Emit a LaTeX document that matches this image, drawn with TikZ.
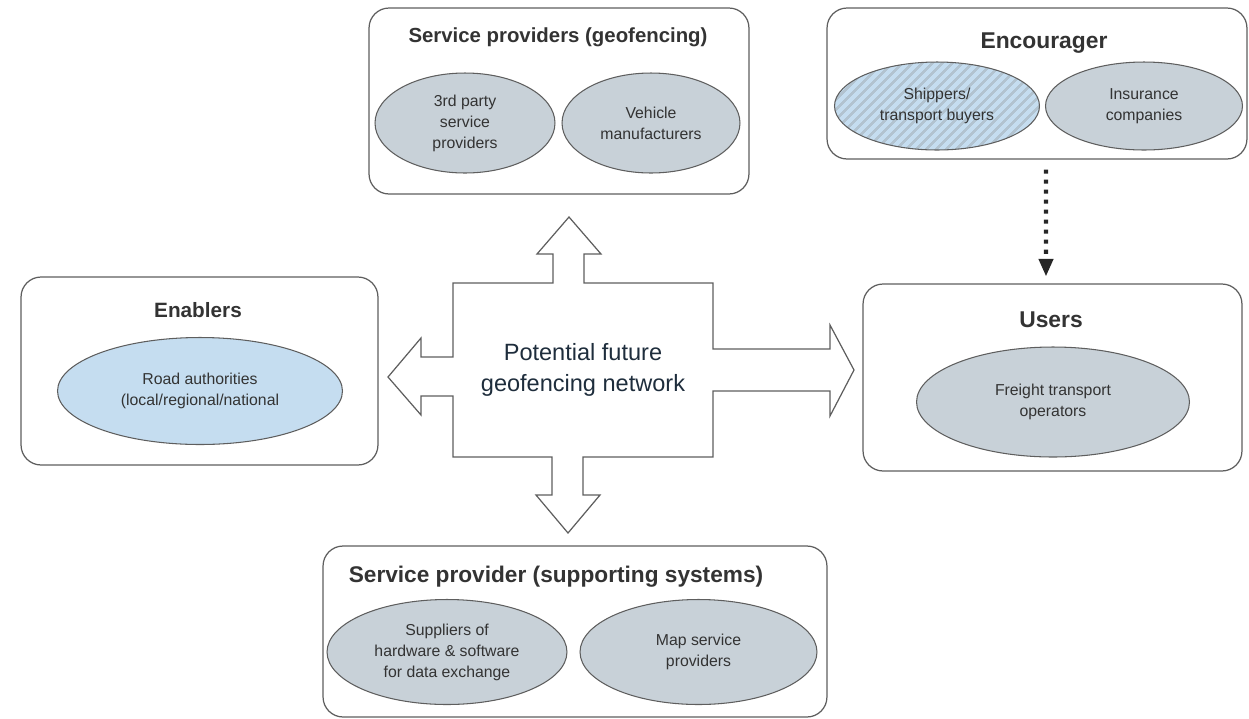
\documentclass[tikz,border=0pt]{standalone}
\usepackage{fontspec}
\setmainfont{Liberation Sans}
\usepackage{xcolor}
\usetikzlibrary{shapes.geometric}
\usetikzlibrary{arrows.meta}
\usetikzlibrary{patterns.meta}
\definecolor{boxline}{HTML}{5E5E5E}
\definecolor{ellgray}{HTML}{C8D1D8}
\definecolor{roadblue}{HTML}{C5DDF0}
\definecolor{stripe}{HTML}{B2C3D0}
\definecolor{txtgray}{HTML}{333333}
\definecolor{netblue}{HTML}{1E2D3C}

\begin{document}
\begin{tikzpicture}[x=0.02cm, y=-0.02cm,
                    %1 unit = 1 pixel of the original
                    grouprect/.style={rectangle, draw = boxline, line width = 0.7pt,
                    rounded corners = 0.4cm},
                    grouptitle/.style={anchor = base, font = \bfseries, text = txtgray},
                    actell/.style={ellipse, align = center, draw = boxline, line width = 0.6pt,
                    fill = ellgray, text = txtgray, inner sep = 0pt,
                    font = \fontsize{9}{12}\selectfont},
                    blueell/.style={actell, fill = roadblue},
                    dotarr/.style={-{Triangle[width=8pt,length=10pt]}, line width = 2.3pt,
                    dash pattern = on 2.3pt off 3.4pt, draw = black!85},
                    crossline/.style={draw = boxline, line width = 0.7pt}]

                    \useasboundingbox (0,0) rectangle (1249,718);

                    % groups
                    \node[grouprect, minimum width = 7.6cm, minimum height = 3.72cm] (geo) at (559,101) {};
                    \node[grouptitle, font = \bfseries\fontsize{11.6}{14}\selectfont] (geotitle) at (558,42) {Service providers (geofencing)};
                    \node[actell, minimum width = 3.6cm, minimum height = 2cm] (thirdp) at (465,123) {3rd party\\service\\providers};
                    \node[actell, minimum width = 3.56cm, minimum height = 2cm] (vehicle) at (651,123) {Vehicle\\manufacturers};

                    \node[grouprect, minimum width = 8.4cm, minimum height = 3.02cm] (enc) at (1037,83.5) {};
                    \node[grouptitle, font = \bfseries\fontsize{13}{15}\selectfont] (enctitle) at (1044,48) {Encourager};
                    \node[blueell, minimum width = 4.1cm, minimum height = 1.76cm,
                          pattern = {Lines[angle=45, distance=4pt, line width=1.5pt]}, pattern color = stripe,
                          preaction = {fill = roadblue}] (shippers) at (937,106) {Shippers/\\transport buyers};
                    \node[actell, minimum width = 3.94cm, minimum height = 1.76cm] (insur) at (1144,106) {Insurance\\companies};

                    \node[grouprect, minimum width = 7.58cm, minimum height = 3.74cm] (users) at (1052.5,377.5) {};
                    \node[grouptitle, font = \bfseries\fontsize{13}{15}\selectfont] (userstitle) at (1051,327) {Users};
                    \node[actell, minimum width = 5.46cm, minimum height = 2.2cm] (freight) at (1053,402) {Freight transport\\operators};

                    \node[grouprect, minimum width = 7.14cm, minimum height = 3.76cm] (enab) at (199.5,371) {};
                    \node[grouptitle, font = \bfseries\fontsize{11.8}{14}\selectfont] (enabtitle) at (198,317) {Enablers};
                    \node[blueell, minimum width = 5.7cm, minimum height = 2.14cm] (road) at (200,391) {Road authorities\\(local/regional/national};

                    \node[grouprect, minimum width = 10.08cm, minimum height = 3.42cm] (supp) at (575,631.5) {};
                    \node[grouptitle, font = \bfseries\fontsize{12.9}{15}\selectfont] (supptitle) at (556,582) {Service provider (supporting systems)};
                    \node[actell, minimum width = 4.8cm, minimum height = 2.1cm] (hwsw) at (447,652) {Suppliers of\\hardware \& software\\for data exchange};
                    \node[actell, minimum width = 4.74cm, minimum height = 2.1cm] (mapsp) at (698.5,652) {Map service\\providers};

                    % network cross
                    \draw[crossline] (453,283) -- (553,283) -- (553,254) -- (537,254) -- (569,217)
                          -- (601,254) -- (584,254) -- (584,283) -- (713,283) -- (713,349)
                          -- (830,349) -- (830,325) -- (854,370) -- (830,416) -- (830,391)
                          -- (713,391) -- (713,457) -- (583,457) -- (583,495) -- (600,495)
                          -- (568,533) -- (536,495) -- (552,495) -- (552,457) -- (453,457)
                          -- (453,396) -- (421,396) -- (421,415) -- (388,377) -- (421,338)
                          -- (421,357) -- (453,357) -- cycle;
                    \node[align = center, text = netblue, font = \fontsize{13.4}{18}\selectfont] (net) at (583,370) {Potential future\\geofencing network};

                    \draw[dotarr, shorten <= 0.2cm, shorten >= 0.14cm] ([xshift=0.18cm]enc.south) -- ([xshift=-0.13cm]users.north);
                    \end{tikzpicture}
\end{document}
